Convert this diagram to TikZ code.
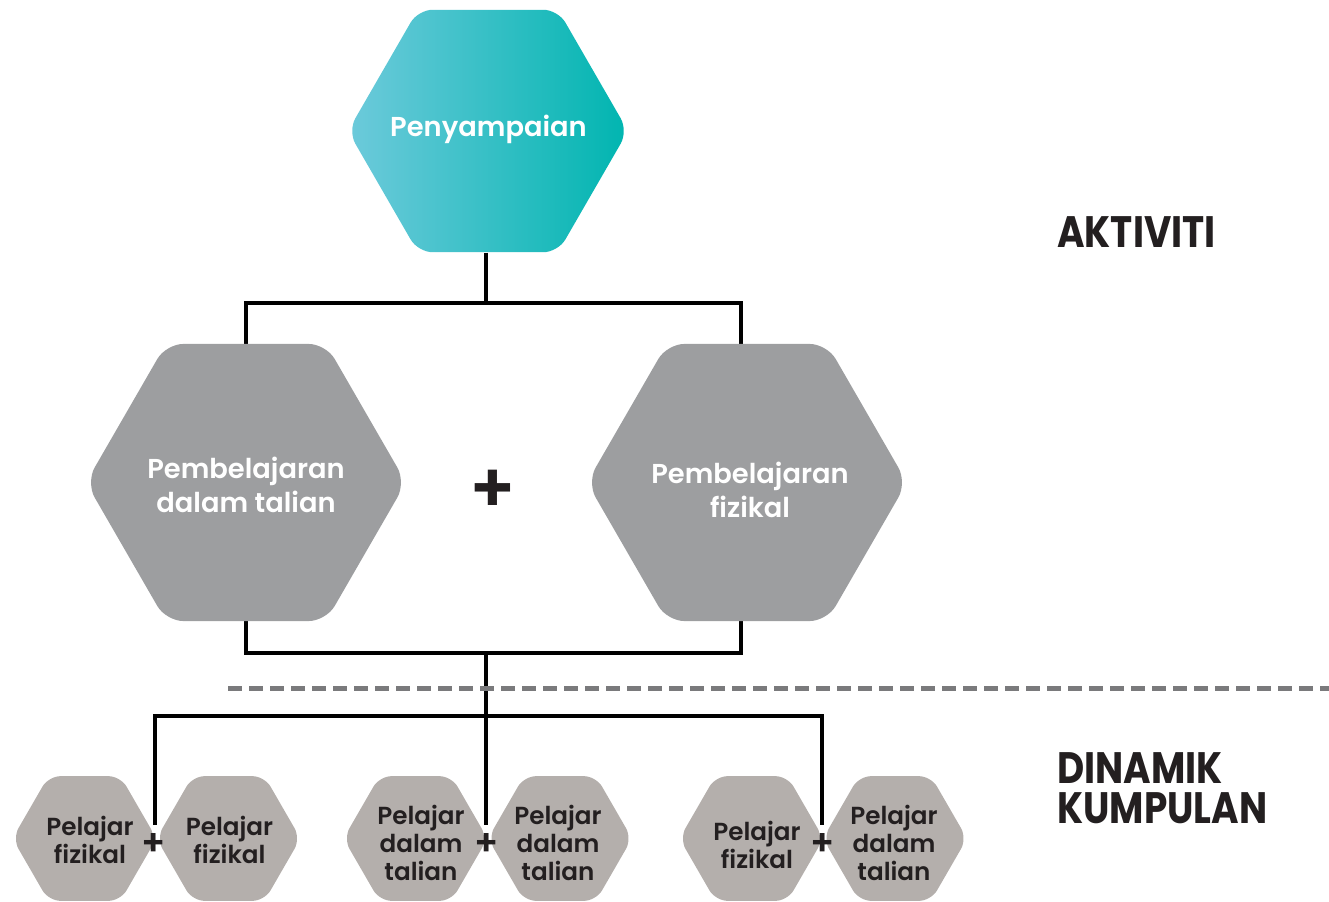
\documentclass[tikz,border=0pt]{standalone}
\usepackage{fontspec}
\setmainfont{Poppins}
\newfontfamily\popmed{Poppins Medium}
\newfontfamily\popsemi{Poppins SemiBold}
\newfontfamily\headfont[FakeStretch=0.85]{Poppins Bold}
\usetikzlibrary{shapes.geometric,backgrounds}
\definecolor{tealL}{HTML}{6DCADB}
\definecolor{tealR}{HTML}{00B5B0}
\definecolor{midgray}{HTML}{9D9EA0}
\definecolor{lowgray}{HTML}{B4AFAC}
\definecolor{ink}{HTML}{231F20}
\definecolor{dashgray}{HTML}{7A7A7C}
\tikzset{
  hexbase/.style={regular polygon, regular polygon sides=6, inner sep=0pt, draw=none},
  tophex/.style={hexbase, minimum size=210pt, rounded corners=11pt, left color=tealL, right color=tealR},
  midhex/.style={hexbase, minimum size=240pt, rounded corners=13pt, fill=midgray},
  lowhex/.style={hexbase, minimum size=108pt, rounded corners=9pt, fill=lowgray},
  whitelbl/.style={text=white, align=center, inner sep=0pt, font=\popsemi\fontsize{20.5}{25.5}\selectfont},
  lowlbl/.style={text=ink, align=center, inner sep=0pt, font=\popsemi\fontsize{18.5}{21}\selectfont},
  pluslbl/.style={text=ink, inner sep=0pt, font=\popsemi\fontsize{52}{52}\selectfont},
  smallplus/.style={text=ink, inner sep=0pt, font=\popsemi\fontsize{27}{27}\selectfont},
  headlbl/.style={text=ink, inner sep=0pt, anchor=north west, align=left, font=\headfont\fontsize{33}{30}\selectfont},
  conn/.style={line width=3pt, black, line join=miter},
  divider/.style={line width=3.75pt, dashgray, dash pattern=on 10.5pt off 5.25pt}
}
\begin{document}
\begin{tikzpicture}[x=0.75pt,y=-0.75pt]
\useasboundingbox (0,0) rectangle (1329,902);

% hexagons
\node[tophex] (top) at (488,131) {};
\node[midhex] (m1) at (246,482.5) {};
\node[midhex] (m2) at (747,482.5) {};
\node[lowhex] (a1) at (84.5,838.5) {};
\node[lowhex] (a2) at (228.5,838.5) {};
\node[lowhex] (b1) at (415.5,838.5) {};
\node[lowhex] (b2) at (560,838.5) {};
\node[lowhex] (c1) at (751.5,838.5) {};
\node[lowhex] (c2) at (895,838.5) {};

% labels
\node[whitelbl] (ttop) at (488.5,129) {Penyampaian};
\node[whitelbl] (tm1) at (246,485) {Pembelajaran\\dalam talian};
\node[whitelbl] (tm2) at (750,490) {Pembelajaran\\fizikal};
\node[pluslbl] (plusmid) at (493,491.5) {+};

\node[lowlbl] (ta1) at (90,840) {Pelajar\\fizikal};
\node[lowlbl] (ta2) at (229.5,840) {Pelajar\\fizikal};
\node[lowlbl] (tb1) at (421,843) {Pelajar\\dalam\\talian};
\node[lowlbl] (tb2) at (558,843) {Pelajar\\dalam\\talian};
\node[lowlbl] (tc1) at (757,845) {Pelajar\\fizikal};
\node[lowlbl] (tc2) at (894,843) {Pelajar\\dalam\\talian};

\node[smallplus] (pa) at (154,844) {+};
\node[smallplus] (pb) at (487,844) {+};
\node[smallplus] (pc) at (823,844) {+};

\node[headlbl] (h1) at (1057,216) {AKTIVITI};
\node[headlbl] (h2) at (1057,752) {DINAMIK\\KUMPULAN};

% connectors
\coordinate (bar1) at (486,303);
\coordinate (bar2) at (486,653);
\coordinate (bar3) at (486,716);
\coordinate (ja) at (155,825);
\coordinate (jb) at (486,825);
\coordinate (jc) at (822,825);
\coordinate (m2in) at (741,482.5);
\coordinate (dashL) at (228,688);
\coordinate (dashR) at (1329,688);

\begin{pgfonlayer}{background}
\draw[conn] (top.south -| bar1) -- (bar1);
\draw[conn] (m1.north -| m1) -- (m1 |- bar1) -- (m2in |- bar1) -- (m2in |- m2.north);
\draw[conn] (m1.south -| m1) -- (m1 |- bar2) -- (m2in |- bar2) -- (m2in |- m2.south);
\draw[conn] (bar2) -- (jb);
\draw[conn] (ja) -- (ja |- bar3) -- (jc |- bar3) -- (jc);
\end{pgfonlayer}
\draw[divider] (dashL) -- (dashR);
\end{tikzpicture}
\end{document}
